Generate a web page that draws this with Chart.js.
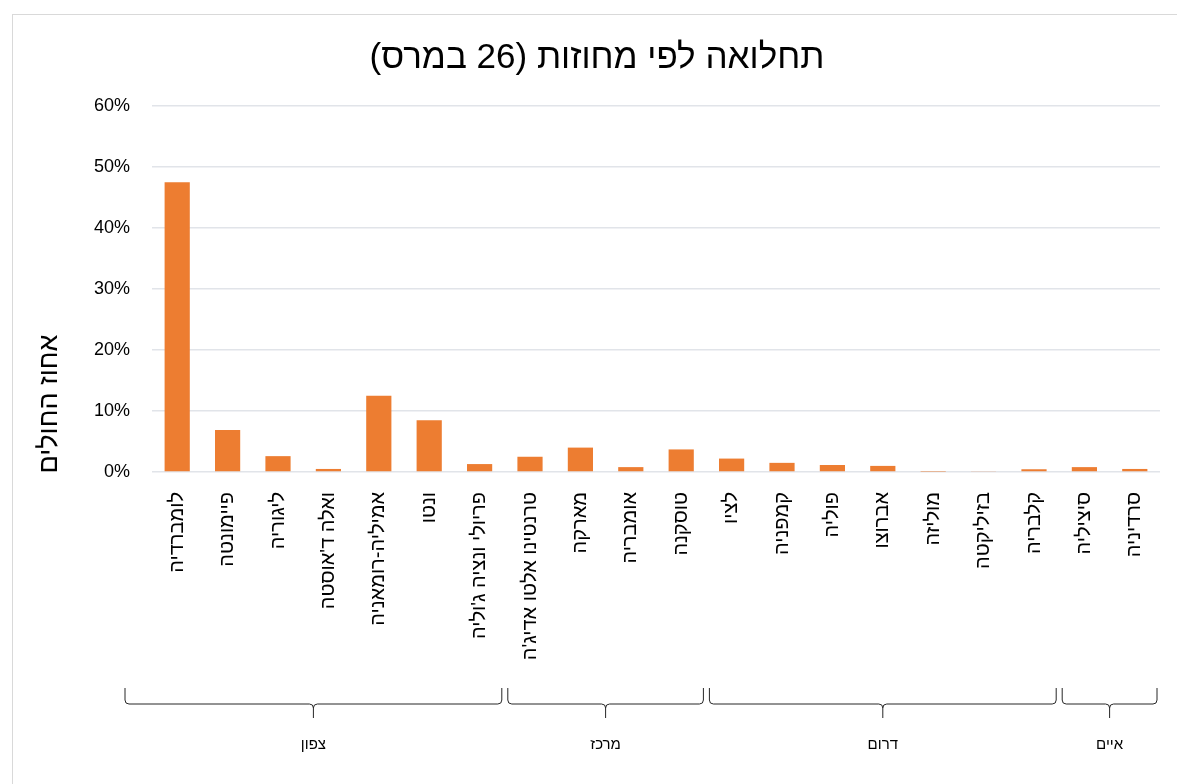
<!DOCTYPE html>
<html>
<head>
<meta charset="utf-8">
<script src="https://cdn.jsdelivr.net/npm/chart.js@4/dist/chart.umd.min.js"></script>
<style>
  body { margin: 0; background: #fff; }
  #frame { position: absolute; left: 12px; top: 14px; width: 1180px; height: 790px; border: 1px solid #d9d9d9; }
  #wrap { position: absolute; left: 0; top: 0; width: 1177px; height: 784px; }
</style>
</head>
<body>
<div id="frame"></div>
<div id="wrap"><canvas id="myChart" dir="rtl"></canvas></div>
<script>
    // נתונים
    var regions = ['לומברדיה', 'פיימונטה', 'ליגוריה', "ואלה ד'אוסטה", 'אמיליה-רומאניה', 'ונטו', "פריולי ונציה ג'וליה",
        "טרנטינו אלטו אדיג'ה", 'מארקה', 'אומבריה', 'טוסקנה',
        'לציו', 'קמפניה', 'פוליה', 'אברוצו', 'מוליזה', 'בזיליקטה', 'קלבריה',
        'סיציליה', 'סרדיניה'];
    var percents = [47.5, 6.9, 2.6, 0.5, 12.5, 8.5, 1.3,
        2.5, 4.0, 0.8, 3.7,
        2.2, 1.5, 1.15, 1.0, 0.05, 0.1, 0.45,
        0.8, 0.5];
    var groupNames = ['צפון', 'מרכז', 'דרום', 'איים'];
    var groupSizes = [7, 4, 7, 2];
    var yTicks = [0, 10, 20, 30, 40, 50, 60];
    var yTitle = 'אחוז החולים';

    var fontFam = "'Liberation Sans', 'DejaVu Sans', sans-serif";

    // סוגריים של קבוצות מתחת לציר + כותרת ציר Y
    var groupBrackets = {
        id: 'groupBrackets',
        afterDraw: function (chart) {
            var x = chart.scales.x;
            var ctx = chart.ctx;
            var half = (x.getPixelForValue(1) - x.getPixelForValue(0)) / 2;
            var yTop = 688, yMid = 704, yTip = 718, r = 4;
            var start = 0;
            ctx.save();
            ctx.strokeStyle = '#262626';
            ctx.lineWidth = 1;
            ctx.fillStyle = '#000';
            ctx.font = '15px ' + fontFam;
            ctx.textAlign = 'center';
            ctx.textBaseline = 'middle';
            for (let g = 0; g < groupNames.length; g++) {
                var end = start + groupSizes[g] - 1;
                var left = x.getPixelForValue(start) - half + 3;
                var right = x.getPixelForValue(end) + half - 3;
                if (g == 0) left -= 30;
                var mid = (left + right) / 2;
                ctx.beginPath();
                ctx.moveTo(left, yTop);
                ctx.lineTo(left, yMid - r);
                ctx.quadraticCurveTo(left, yMid, left + r, yMid);
                ctx.lineTo(mid - r, yMid);
                ctx.quadraticCurveTo(mid, yMid, mid, yMid + r);
                ctx.lineTo(mid, yTip);
                ctx.moveTo(mid, yMid + r);
                ctx.quadraticCurveTo(mid, yMid, mid + r, yMid);
                ctx.lineTo(right - r, yMid);
                ctx.quadraticCurveTo(right, yMid, right, yMid - r);
                ctx.lineTo(right, yTop);
                ctx.stroke();
                ctx.fillText(groupNames[g], mid, 745);
                start = end + 1;
            }
            // כותרת ציר Y
            ctx.translate(50, 404);
            ctx.rotate(-Math.PI / 2);
            ctx.font = '27px ' + fontFam;
            ctx.fillText(yTitle, 0, 0);
            ctx.restore();
        }
    };

    var ctx = document.getElementById('myChart').getContext('2d');
    var myChart = new Chart(ctx, {
        type: 'bar',
        data: {
            labels: regions,
            datasets: [{
                label: yTitle,
                data: percents,
                backgroundColor: '#ED7D31',
                borderWidth: 0,
                barPercentage: 0.5,
                categoryPercentage: 1
            }]
        },
        plugins: [groupBrackets],
        options: {
            responsive: true,
            maintainAspectRatio: false,
            animation: false,
            layout: { padding: { left: 34, right: 17, top: 0, bottom: 0 } },
            plugins: {
                legend: { display: false },
                tooltip: { enabled: false },
                title: {
                    display: true,
                    text: 'תחלואה לפי מחוזות (26 במרס)',
                    color: '#000',
                    font: { family: fontFam, size: 35, weight: 'normal' },
                    padding: { top: 37, bottom: 27 }
                }
            },
            scales: {
                x: {
                    grid: { display: false },
                    border: { display: false },
                    ticks: {
                        color: '#000',
                        font: { family: fontFam, size: 20 },
                        minRotation: 90,
                        maxRotation: 90,
                        autoSkip: false,
                        padding: 12
                    },
                    afterFit: function (scale) { scale.height = 312; }
                },
                y: {
                    min: 0,
                    max: 60,
                    afterBuildTicks: function (scale) {
                        scale.ticks = yTicks.map(function (v) { return { value: v }; });
                    },
                    grid: { color: '#e1e4e9', lineWidth: 1.5, drawTicks: false },
                    border: { display: false },
                    ticks: {
                        color: '#000',
                        font: { family: fontFam, size: 18 },
                        padding: 22,
                        callback: function (v) { return v + '%'; }
                    },
                    afterFit: function (scale) { scale.width = 118; }
                }
            }
        }
    });
</script>
</body>
</html>
